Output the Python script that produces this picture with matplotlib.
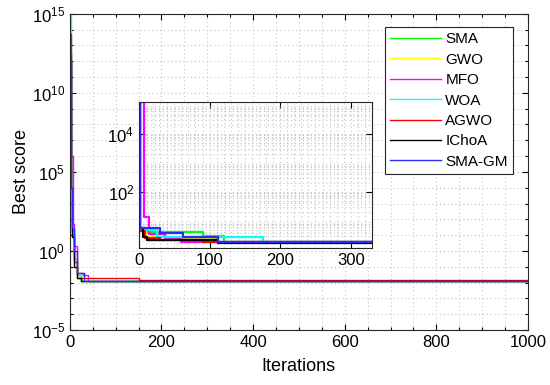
#!/usr/bin/env python3
"""
Convergence curves (best score vs iteration) for seven optimisers,
log-scale y axis, with a zoomed inset of the first 330 iterations.
"""

import numpy as np
import matplotlib
matplotlib.use("Agg")
import matplotlib.pyplot as plt
from matplotlib.ticker import FixedLocator, MultipleLocator, LogLocator, NullFormatter

plt.rcParams["font.family"] = ["Liberation Sans", "DejaVu Sans"]
plt.rcParams["mathtext.fontset"] = "custom"
plt.rcParams["mathtext.rm"] = "Liberation Sans"

# algorithm names and line colours
names = ["SMA", "GWO", "MFO", "WOA", "AGWO", "IChoA", "SMA-GM"]
colors = ["#00ff00", "#ffff00", "#ff00ff", "#00ffff", "#ff0000", "#000000", "#2a2aff"]

# full run: step breakpoints (iteration, best score)
main_iters = {
    "SMA":    [1, 2, 4, 8, 15, 25, 1000],
    "GWO":    [1, 2, 4, 8, 15, 25, 1000],
    "MFO":    [1, 3, 6, 10, 15, 28, 40, 1000],
    "WOA":    [1, 2, 4, 8, 15, 25, 1000],
    "AGWO":   [1, 2, 4, 8, 15, 150, 1000],
    "IChoA":  [1, 2, 4, 8, 15, 25, 1000],
    "SMA-GM": [1, 2, 4, 8, 15, 30, 1000],
}
main_vals = {
    "SMA":    [1e12, 1e4, 20, 0.3, 0.03, 0.013, 0.013],
    "GWO":    [1e12, 1e4, 15, 0.2, 0.025, 0.013, 0.013],
    "MFO":    [1e12, 1e6, 50, 2.0, 0.04, 0.03, 0.013, 0.013],
    "WOA":    [9e14, 1e4, 20, 0.3, 0.03, 0.013, 0.013],
    "AGWO":   [5e13, 1e4, 10, 0.2, 0.02, 0.0145, 0.013],
    "IChoA":  [1e12, 1e4, 8, 0.1, 0.02, 0.013, 0.013],
    "SMA-GM": [3e12, 1e4, 30, 1.0, 0.04, 0.013, 0.013],
}

# zoomed view: step breakpoints
zoom_iters = {
    "SMA":    [1, 2, 9, 91, 120, 330],
    "GWO":    [1, 2, 10, 40, 110, 330],
    "MFO":    [1, 7, 14, 37, 60, 330],
    "WOA":    [1, 2, 25, 176, 330],
    "AGWO":   [1, 2, 8, 30, 90, 330],
    "IChoA":  [1, 2, 5, 12, 112, 330],
    "SMA-GM": [1, 2, 30, 62, 112, 330],
}
zoom_vals = {
    "SMA":    [5e5, 5.5, 4.2, 3.0, 1.9, 1.9],
    "GWO":    [5e5, 5.0, 3.0, 2.4, 1.9, 1.9],
    "MFO":    [5e5, 14.0, 3.6, 2.6, 1.9, 1.9],
    "WOA":    [5e5, 5.0, 2.8, 1.9, 1.9],
    "AGWO":   [5e5, 4.5, 2.6, 2.2, 1.9, 1.9],
    "IChoA":  [5e5, 5.5, 2.8, 2.2, 1.8, 1.8],
    "SMA-GM": [5e5, 5.7, 3.9, 2.7, 1.85, 1.85],
}

grid_kw = dict(color="#c4c4c4", linestyle=(0, (1, 2.5)), linewidth=0.8)


def main():
    fig = plt.figure(figsize=(5.5, 3.85), dpi=100)
    ax = fig.add_axes([0.127, 0.143, 0.833, 0.821])

    for name, c in zip(names, colors):
        ax.step(main_iters[name], main_vals[name], where="post", color=c,
                linewidth=1.0, label=name)

    ax.set_yscale("log")
    ax.set_xlim(0, 1000)
    ax.set_ylim(1e-5, 1e15)
    ax.yaxis.set_major_locator(FixedLocator([1e-5, 1e0, 1e5, 1e10, 1e15]))
    ax.yaxis.set_minor_locator(FixedLocator([10.0 ** k for k in range(-5, 16)]))
    ax.yaxis.set_minor_formatter(NullFormatter())
    ax.xaxis.set_major_locator(MultipleLocator(200))
    ax.xaxis.set_minor_locator(MultipleLocator(50))
    ax.grid(True, which="both", **grid_kw)
    ax.tick_params(which="both", direction="in", top=True, right=True,
                   labelsize=12, width=0.8)
    ax.tick_params(which="major", length=4)
    ax.tick_params(which="minor", length=2.5)
    ax.set_xlabel("Iterations", fontsize=13, labelpad=6)
    ax.set_ylabel("Best score", fontsize=13, labelpad=1)
    for s in ax.spines.values():
        s.set_linewidth(0.8)
        s.set_color("#262626")

    leg = ax.legend(loc="upper right", bbox_to_anchor=(0.933, 0.930),
                    bbox_transform=fig.transFigure, borderaxespad=0,
                    fontsize=11, handlelength=3.3, handletextpad=0.3,
                    labelspacing=0.42, borderpad=0.35, fancybox=False,
                    framealpha=1, edgecolor="#262626")
    leg.get_frame().set_linewidth(0.8)

    # inset
    ins = fig.add_axes([0.2527, 0.356, 0.4236, 0.379])
    for name, c in zip(names, colors):
        ins.step(zoom_iters[name], zoom_vals[name], where="post", color=c,
                 linewidth=1.6)
    ins.set_yscale("log")
    ins.set_xlim(0, 330)
    ins.set_ylim(10 ** 0.07, 10 ** 5.1)
    ins.yaxis.set_major_locator(FixedLocator([1e2, 1e4]))
    ins.yaxis.set_minor_locator(LogLocator(base=10, subs=np.arange(2, 10), numticks=20))
    ins.yaxis.set_minor_formatter(NullFormatter())
    ins.xaxis.set_major_locator(MultipleLocator(100))
    ins.xaxis.set_minor_locator(MultipleLocator(10))
    ins.grid(True, which="both", **grid_kw)
    ins.tick_params(which="both", direction="in", top=True, right=True,
                    labelsize=12, width=0.8)
    ins.tick_params(which="major", length=4)
    ins.tick_params(which="minor", length=0)
    for s in ins.spines.values():
        s.set_linewidth(0.8)
        s.set_color("#262626")

    fig.savefig("out.png", dpi=100)


if __name__ == "__main__":
    main()
